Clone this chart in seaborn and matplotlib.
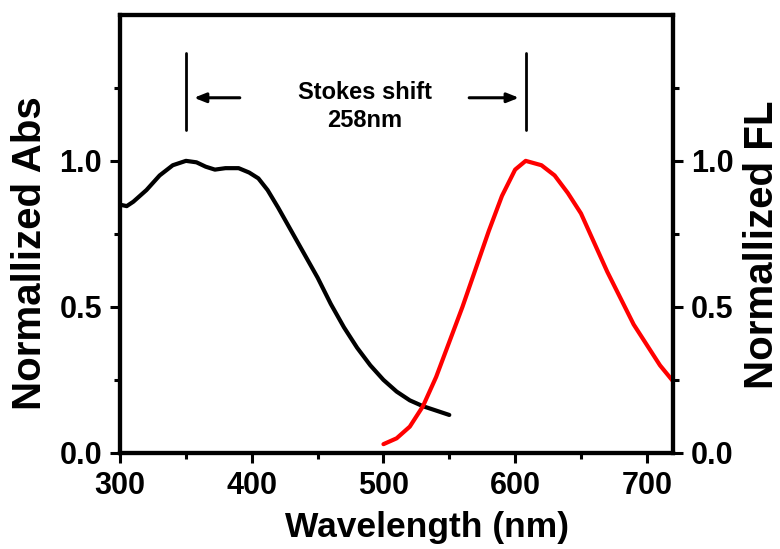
import numpy as np
import pandas as pd
import seaborn as sns
import matplotlib.pyplot as plt
from matplotlib.ticker import MultipleLocator

# absorption spectrum
abs_wl = [300, 305, 310, 320, 330, 340, 350, 358, 365, 372, 380, 390, 398, 405, 412,
          420, 430, 440, 450, 460, 470, 480, 490, 500, 510, 520, 530, 540, 550]
abs_val = [0.85, 0.845, 0.86, 0.90, 0.95, 0.985, 1.00, 0.995, 0.98, 0.97, 0.975, 0.975, 0.96, 0.94, 0.90,
           0.84, 0.76, 0.68, 0.60, 0.51, 0.43, 0.36, 0.30, 0.25, 0.21, 0.18, 0.16, 0.145, 0.13]

# fluorescence spectrum
fl_wl = [500, 510, 520, 530, 540, 550, 560, 570, 580, 590, 600, 608,
         620, 630, 640, 650, 660, 670, 680, 690, 700, 710, 720]
fl_val = [0.03, 0.05, 0.09, 0.16, 0.26, 0.38, 0.50, 0.63, 0.76, 0.88, 0.97, 1.00,
          0.985, 0.95, 0.89, 0.82, 0.72, 0.62, 0.53, 0.44, 0.37, 0.30, 0.245]

abs_peak = 350
fl_peak = 608
shift_label = "Stokes shift\n258nm"

sns.set_style("ticks")
plt.rcParams['font.family'] = ['Liberation Sans', 'DejaVu Sans']
plt.rcParams['font.weight'] = 'bold'
plt.rcParams['text.color'] = 'black'
plt.rcParams['axes.labelcolor'] = 'black'
plt.rcParams['xtick.color'] = 'black'
plt.rcParams['ytick.color'] = 'black'

fig = plt.figure(figsize=(7.8, 5.49), dpi=100)
ax = fig.add_axes([0.154, 0.175, 0.709, 0.798])
ax2 = ax.twinx()

df_abs = pd.DataFrame({"wl": abs_wl, "val": abs_val})
df_fl = pd.DataFrame({"wl": fl_wl, "val": fl_val})
sns.lineplot(data=df_abs, x="wl", y="val", ax=ax, color="black", linewidth=3)
sns.lineplot(data=df_fl, x="wl", y="val", ax=ax2, color="red", linewidth=3)

for a in (ax, ax2):
    a.set_xlim(300, 720)
    a.set_ylim(0, 1.5)
    for s in a.spines.values():
        s.set_linewidth(3)
        s.set_visible(True)
        s.set_color('black')
    a.tick_params(which='major', length=7, width=2.2, direction='out', labelsize=22, pad=6)
    a.tick_params(which='minor', length=4, width=2.2, direction='out')
    a.set_yticks([0, 0.5, 1.0])
    a.set_yticks([0.25, 0.75, 1.25], minor=True)
    a.set_yticklabels(["0.0", "0.5", "1.0"])

ax.xaxis.set_major_locator(MultipleLocator(100))
ax.xaxis.set_minor_locator(MultipleLocator(50))

ax.set_xlabel("Wavelength (nm)", fontsize=25.5, fontweight='bold')
ax.set_ylabel("Normallized Abs", fontsize=29, fontweight='bold')
ax2.set_ylabel("Normallized FL", fontsize=29, fontweight='bold')
ax.xaxis.set_label_coords(0.555, -0.132)
ax.yaxis.set_label_coords(-0.129, 0.457)
ax2.yaxis.set_label_coords(1.127, 0.475)

# stokes shift annotation
ax.plot([abs_peak, abs_peak], [1.105, 1.37], color="black", linewidth=2)
ax.plot([fl_peak, fl_peak], [1.105, 1.37], color="black", linewidth=2)
ax.annotate("", xy=(abs_peak + 4, 1.216), xytext=(393, 1.216),
            arrowprops=dict(arrowstyle="-|>,head_length=0.7,head_width=0.28", color="black", lw=2.2))
ax.annotate("", xy=(fl_peak - 3, 1.216), xytext=(563, 1.216),
            arrowprops=dict(arrowstyle="-|>,head_length=0.7,head_width=0.28", color="black", lw=2.2))
ax.text(486, 1.186, shift_label, ha="center", va="center", fontsize=17,
        fontweight='bold', linespacing=1.3)

fig.savefig("out.png", dpi=100)
